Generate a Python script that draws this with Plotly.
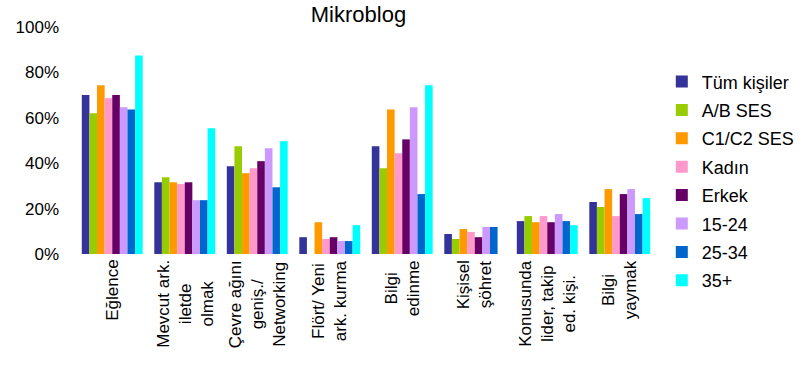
import plotly.graph_objects as go

categories = [
    "Eğlence",
    "Mevcut ark.<br>iletde<br>olmak",
    "Çevre ağını<br>geniş./<br>Networking",
    "Flört/ Yeni<br>ark. kurma",
    "Bilgi<br>edinme",
    "Kişisel<br>şöhret",
    "Konusunda<br>lider, takip<br>ed. kişi.",
    "Bilgi<br>yaymak",
]

series_names = ["Tüm kişiler", "A/B SES", "C1/C2 SES", "Kadın", "Erkek", "15-24", "25-34", "35+"]

tum = [70, 31.6, 38.7, 7.4, 47.5, 8.8, 14.5, 22.9]
ab = [62, 33.8, 47.5, None, 37.8, 6.6, 16.7, 20.7]
c1c2 = [74.3, 31.6, 35.6, 14, 63.7, 11, 14, 28.6]
kadin = [68.6, 30.8, 37.8, 6.6, 44.4, 9.7, 16.7, 16.7]
erkek = [70, 31.6, 40.9, 7.4, 50.5, 7.4, 14, 26.4]
y15_24 = [64.6, 23.7, 46.6, 5.7, 64.6, 11.9, 17.6, 28.6]
y25_34 = [63.7, 23.7, 29.4, 5.7, 26.4, 11.9, 14.5, 17.6]
y35 = [87.5, 55.4, 49.7, 12.7, 74.3, None, 12.7, 24.6]

series_values = [tum, ab, c1c2, kadin, erkek, y15_24, y25_34, y35]
colors = ["#333399", "#99CC00", "#FF9900", "#FF99CC", "#660066", "#CC99FF", "#0066CC", "#00FFFF"]

y_tickvals = [0, 20, 40, 60, 80, 100]
y_ticktext = ["0%", "20%", "40%", "60%", "80%", "100%"]

FONT = "Liberation Sans, Arial, sans-serif"

fig = go.Figure()
for i, (name, vals, col) in enumerate(zip(series_names, series_values, colors)):
    fig.add_trace(go.Bar(
        x=categories, y=vals, name=name, marker=dict(color=col, line=dict(width=0)),
        legendgroup=f"g{i}",
    ))

annotations = []
for cat in categories:
    annotations.append(dict(
        x=cat, xref="x", y=0, yref="paper", yanchor="top", xanchor="center",
        yshift=-4, text=cat, showarrow=False, textangle=-90, align="center",
        font=dict(family=FONT, size=17, color="#000000"),
    ))

fig.update_layout(
    width=801, height=366,
    margin=dict(l=76, r=145, t=27, b=112, autoexpand=False),
    paper_bgcolor="white", plot_bgcolor="white",
    barmode="group", bargap=0.16, bargroupgap=0,
    font=dict(family=FONT, size=17, color="#000000"),
    title=dict(text="Mikroblog", x=0.487, xref="paper", xanchor="center",
               y=0.962, yref="container", yanchor="middle",
               font=dict(family=FONT, size=22, color="#000000")),
    xaxis=dict(showticklabels=False, showline=False, showgrid=False, zeroline=False, ticks=""),
    yaxis=dict(range=[0, 100], tickvals=y_tickvals, ticktext=y_ticktext,
               showgrid=False, zeroline=False, showline=False, ticks="",
               tickfont=dict(family=FONT, size=17, color="#000000"), ticklabelstandoff=16),
    legend=dict(x=1.01, xanchor="left", y=0.84, yanchor="top",
                font=dict(family=FONT, size=18, color="#000000"),
                tracegroupgap=2, bgcolor="rgba(0,0,0,0)", maxheight=400),
    annotations=annotations,
    showlegend=True,
)

fig.write_html("out.html")
